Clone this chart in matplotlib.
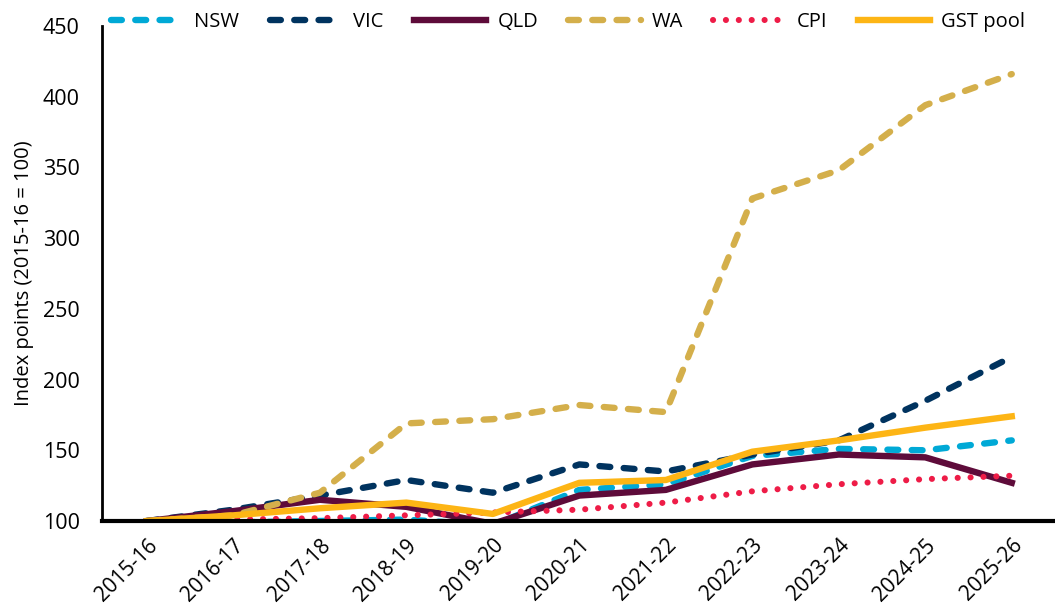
import matplotlib
matplotlib.use("Agg")
import matplotlib.pyplot as plt

plt.rcParams['font.family'] = ['Open Sans', 'DejaVu Sans']

years = ["2015-16", "2016-17", "2017-18", "2018-19", "2019-20", "2020-21",
         "2021-22", "2022-23", "2023-24", "2024-25", "2025-26"]
nsw = [100, 99, 100, 101, 97, 122, 126, 146, 151, 150, 157]
vic = [100, 108, 118, 129, 120, 140, 135, 147, 157, 185, 216]
qld = [100, 107, 115, 110, 98, 118, 122, 140, 147, 145, 127]
wa = [100, 104, 120, 169, 172, 182, 177, 328, 348, 394, 416]
cpi = [100, 101, 102, 104, 106, 108, 113, 121, 126, 129.6, 132]
gst = [100, 104, 109, 113, 105, 127, 129, 149, 157, 166, 174]

W, H = 1055, 612
fig = plt.figure(figsize=(W/100, H/100), dpi=100)
ax = fig.add_axes([102/W, 1 - 521/H, 1 - 102/W, (521 - 26)/H])

x = list(range(len(years)))
lw = 4.6
dash = (0, (1.7, 2.1))
ax.plot(x, nsw, color="#00A9D6", lw=lw, ls=dash, label="NSW", dash_capstyle='round')
ax.plot(x, vic, color="#00335F", lw=lw, ls=dash, label="VIC", dash_capstyle='round')
ax.plot(x, qld, color="#5E0B3A", lw=lw, ls="-", label="QLD")
ax.plot(x, wa, color="#D4AF4B", lw=lw, ls=dash, label="WA", dash_capstyle='round')
ax.plot(x, cpi, color="#EE1C47", lw=4.4, ls=(0, (0.01, 2.1)), label="CPI", dash_capstyle='round')
ax.plot(x, gst, color="#FDB515", lw=lw, ls="-", label="GST pool")

ax.set_ylim(100, 450)
ax.set_yticks(range(100, 451, 50))
ax.set_xlim(-0.52, 10.5)
ax.set_xticks(x)
ax.set_xticklabels(years, rotation=45, ha="right", rotation_mode="anchor", fontsize=15)
ax.tick_params(axis='y', labelsize=15.5, length=0, pad=16)
ax.tick_params(axis='x', length=0, pad=10)
for s in ["top", "right"]:
    ax.spines[s].set_visible(False)
ax.spines["left"].set_linewidth(2)
ax.spines["bottom"].set_linewidth(3)
ax.set_ylabel("Index points (2015-16 = 100)", fontsize=14.5, labelpad=6)

leg = fig.legend(*ax.get_legend_handles_labels(), loc="center",
                 bbox_to_anchor=(568/W, 1 - 22/H), ncol=6, frameon=False,
                 fontsize=14.5, handlelength=3.6, columnspacing=1.5, handletextpad=0.55)

fig.savefig("out.png", dpi=100)
